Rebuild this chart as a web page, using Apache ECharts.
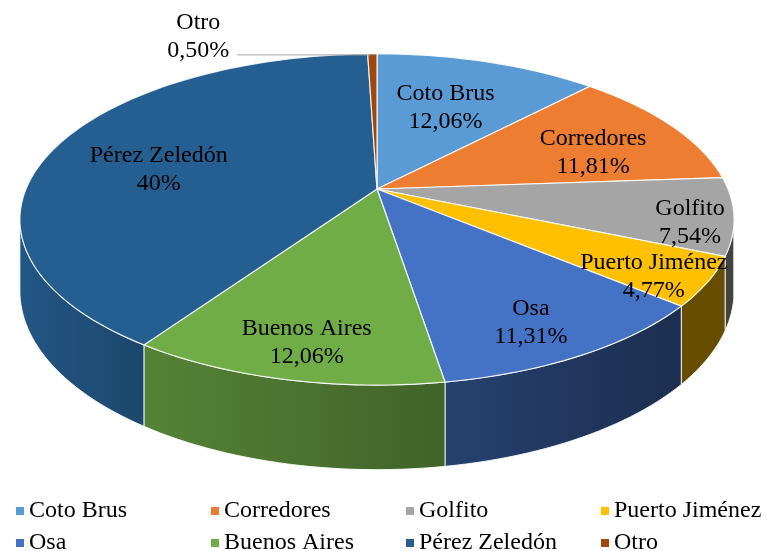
<!DOCTYPE html>
<html>
<head>
<meta charset="utf-8">
<script src="https://cdn.jsdelivr.net/npm/echarts@6/dist/echarts.min.js"></script>
<style>
  html, body { margin: 0; padding: 0; background: #fff; }
  #chart { width: 767px; height: 551px; }
</style>
</head>
<body>
<div id="chart"></div>
<script>
// datos
var names = ['Coto Brus', 'Corredores', 'Golfito', 'Puerto Jiménez', 'Osa', 'Buenos Aires', 'Pérez Zeledón', 'Otro'];
var values = [12.06, 11.81, 7.54, 4.77, 11.31, 12.06, 40, 0.5];
var pctLabels = ['12,06%', '11,81%', '7,54%', '4,77%', '11,31%', '12,06%', '40%', '0,50%'];

var colors = ['#5b9bd5', '#ed7d31', '#a5a5a5', '#ffc000', '#4472c4', '#70ad47', '#255e91', '#9e480e'];
var font = '"Liberation Serif", "Times New Roman", serif';

// geometria del pastel 3D (perspectiva)
var CX = 377, CY = 189, RX = 351, RY = 160, H = 69, PERSP = 0.184;
var VIS_A = 103, VIS_B = 259.4;
// posicion de etiquetas: fraccion de radio y ajuste vertical
var labelR = [0.58, 0.72, 0.88, 0.85, 0.78, 0.79, 0.67];
var labelDy = [-3, 10, 10, 10, 10, 10, 10];

var total = values.reduce(function (a, b) { return a + b; }, 0);
var starts = [];
var acc = 0;
for (var k = 0; k < values.length; k++) {
  starts.push(acc / total * 360);
  acc += values[k];
}

function proj(deg, f, depth) {
  var t = deg * Math.PI / 180;
  var z = f * Math.cos(t);
  var den = 1 + PERSP * z;
  return [CX + RX * f * Math.sin(t) / den, CY - RY * z / den + H * depth / den];
}

function shade(hex, k) {
  var n = parseInt(hex.slice(1), 16);
  var r = Math.round(((n >> 16) & 255) * k);
  var g = Math.round(((n >> 8) & 255) * k);
  var b = Math.round((n & 255) * k);
  return 'rgb(' + r + ',' + g + ',' + b + ')';
}

function sideK(deg) {
  return Math.max(0.4, Math.min(0.92, 0.38 + (deg - 125) * 0.0042));
}

function arc(a0, a1, depth) {
  var pts = [];
  var steps = Math.max(2, Math.ceil((a1 - a0) / 1.5));
  for (var s = 0; s <= steps; s++) {
    pts.push(proj(a0 + (a1 - a0) * s / steps, 1, depth));
  }
  return pts;
}

function makeRender(i) {
  return function (params, api) {
    var a0 = starts[i];
    var a1 = starts[i] + values[i] / total * 360;
    var children = [];
    var edge = 'rgba(255,255,255,0.85)';

    // cara lateral
    var s0 = Math.max(a0, VIS_A), s1 = Math.min(a1, VIS_B);
    if (s1 > s0) {
      var top = arc(s0, s1, 0);
      var bot = arc(s0, s1, 1).reverse();
      children.push({
        type: 'polygon',
        z2: 1,
        shape: { points: top.concat(bot) },
        style: {
          fill: new echarts.graphic.LinearGradient(0, 0, 1, 0, [
            { offset: 0, color: shade(colors[i], sideK(s1)) },
            { offset: 1, color: shade(colors[i], sideK(s0)) }
          ]),
          stroke: edge,
          lineWidth: 1
        }
      });
    }

    // cara superior
    var pts = [[CX, CY]].concat(arc(a0, a1, 0));
    children.push({
      type: 'polygon',
      z2: 10,
      shape: { points: pts },
      style: { fill: colors[i], stroke: edge, lineWidth: 1.2 }
    });

    var mid = (a0 + a1) / 2;
    var text = names[i] + '\n' + pctLabels[i];
    if (i < labelR.length) {
      var p = proj(mid, labelR[i], 0);
      children.push({
        type: 'text',
        z2: 30,
        style: {
          text: text, x: p[0], y: p[1] + labelDy[i],
          fill: '#000', fontSize: 24, fontFamily: font, lineHeight: 28,
          align: 'center', verticalAlign: 'middle'
        }
      });
    } else {
      var q = proj(mid, 1, 0);
      children.push({
        type: 'line',
        z2: 30,
        shape: { x1: q[0] - 135, y1: q[1] + 1, x2: q[0] - 2, y2: q[1] + 1 },
        style: { stroke: '#a6a6a6', lineWidth: 1 }
      });
      children.push({
        type: 'text',
        z2: 30,
        style: {
          text: text, x: q[0] - 174, y: q[1] - 17,
          fill: '#000', fontSize: 24, fontFamily: font, lineHeight: 28,
          align: 'center', verticalAlign: 'middle'
        }
      });
    }
    return { type: 'group', children: children };
  };
}

var series = names.map(function (n, i) {
  return {
    name: n,
    type: 'custom',
    coordinateSystem: 'none',
    itemStyle: { color: colors[i] },
    renderItem: makeRender(i),
    data: [values[i]]
  };
});

// leyenda en rejilla de 4 columnas x 2 filas
var legends = names.map(function (n, i) {
  return {
    left: 11 + (i % 4) * 195,
    top: i < 4 ? 494 : 526,
    icon: 'rect',
    itemWidth: 8,
    itemHeight: 8,
    selectedMode: false,
    data: [n],
    textStyle: { fontSize: 24, fontFamily: font, color: '#000' }
  };
});

var option = {
  animation: false,
  legend: legends,
  series: series
};

var myChart = echarts.init(document.getElementById('chart'));
myChart.setOption(option);
</script>
</body>
</html>
